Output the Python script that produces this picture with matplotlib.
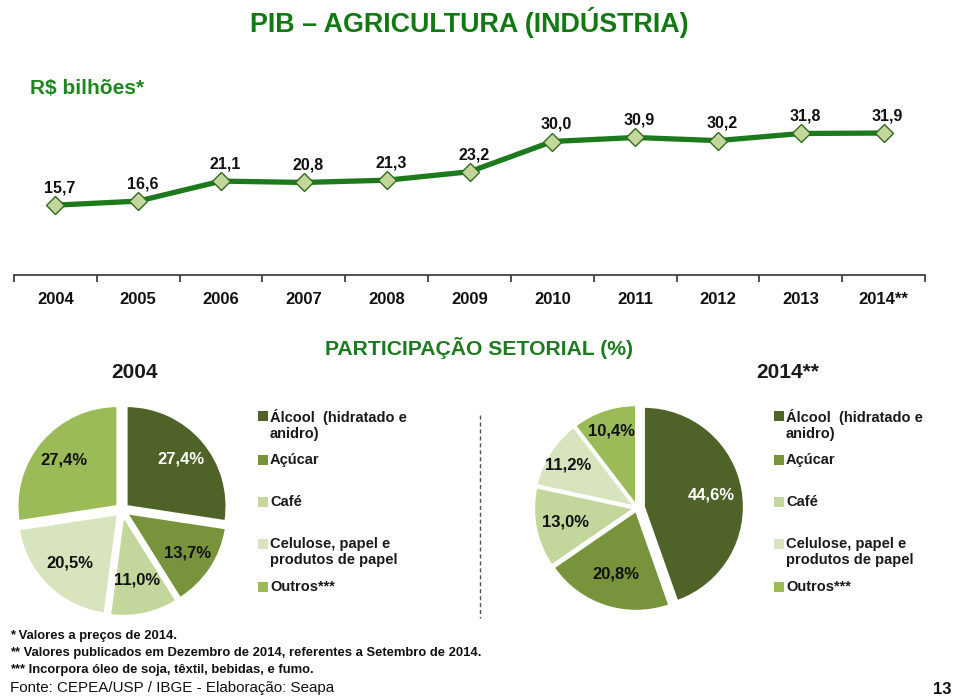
import matplotlib
matplotlib.use("Agg")
import matplotlib.pyplot as plt
from matplotlib.patches import Rectangle
import numpy as np

plt.rcParams['font.family'] = ['Liberation Sans', 'DejaVu Sans']

years = ['2004', '2005', '2006', '2007', '2008', '2009', '2010', '2011', '2012', '2013', '2014**']
pib = [15.7, 16.6, 21.1, 20.8, 21.3, 23.2, 30.0, 30.9, 30.2, 31.8, 31.9]

sectors = ['Álcool  (hidratado e\nanidro)', 'Açúcar', 'Café', 'Celulose, papel e\nprodutos de papel', 'Outros***']
share_2004 = [27.4, 13.7, 11.0, 20.5, 27.4]
share_2014 = [44.6, 20.8, 13.0, 11.2, 10.4]
colors = ['#4F6228', '#77933C', '#C3D69B', '#D7E4BD', '#9BBB59']
label_colors = ['white', '#111111', '#111111', '#111111', '#111111']

W, H = 960, 697
fig = plt.figure(figsize=(W / 100, H / 100), dpi=100)

def fx(x):
    return x / W

def fy(y):
    return 1 - y / H

# Titles
fig.text(fx(469), fy(22), 'PIB – AGRICULTURA (INDÚSTRIA)', ha='center', va='center',
         fontsize=19.4, fontweight='bold', color='#127812')
fig.text(fx(30), fy(88), 'R$ bilhões*', ha='left', va='center',
         fontsize=15, fontweight='bold', color='#1E861E')

# Line chart
ax = fig.add_axes([fx(14), fy(275), fx(925) - fx(14), fy(97) - fy(275)])
x = np.arange(len(years))
ax.plot(x, pib, color='#1C7A1C', lw=3.8, marker='D', markersize=9.5,
        markerfacecolor='#C3D69B', markeredgecolor='#2F6A1F', markeredgewidth=1.0, zorder=3)
for xi, v in zip(x, pib):
    ax.annotate(f'{v:.1f}'.replace('.', ','), (xi, v), xytext=(3, 7), textcoords='offset points',
                ha='center', va='bottom', fontsize=11.5, fontweight='bold', color='#111111')
ax.set_xlim(-0.5, len(years) - 0.5)
ax.set_ylim(0, 40)
for s in ['left', 'right', 'top']:
    ax.spines[s].set_visible(False)
ax.spines['bottom'].set_color('#333333')
ax.spines['bottom'].set_linewidth(1.2)
ax.set_yticks([])
ax.set_xticks(x)
ax.set_xticklabels(years, fontsize=12, fontweight='bold', color='#111111')
ax.tick_params(axis='x', which='major', length=0, pad=12)
ax.set_xticks(np.arange(-0.5, len(years), 1.0), minor=True)
ax.tick_params(axis='x', which='minor', length=5, width=1.2, color='#333333', direction='out')
ax.set_facecolor('none')

# Section header
fig.text(fx(479), fy(348), 'PARTICIPAÇÃO SETORIAL (%)', ha='center', va='center',
         fontsize=15.2, fontweight='bold', color='#1E7A1E')
fig.text(fx(135), fy(373), '2004', ha='center', va='center', fontsize=15, fontweight='bold', color='#1a1a1a')
fig.text(fx(788), fy(373), '2014**', ha='center', va='center', fontsize=15, fontweight='bold', color='#1a1a1a')

def draw_pie(cx, cy, values, explode, dists):
    r_px = 100
    half = 118
    pax = fig.add_axes([fx(cx - half), fy(cy + half), fx(2 * half), (2 * half) / H])
    pax.pie(values, colors=colors, startangle=90, counterclock=False,
            explode=explode, radius=1.0,
            wedgeprops=dict(edgecolor='white', linewidth=1.5))
    lim = half / r_px
    pax.set_xlim(-lim, lim)
    pax.set_ylim(-lim, lim)
    pax.set_aspect('equal')
    pax.axis('off')
    total = sum(values)
    cum = 0
    for i, v in enumerate(values):
        mid = 90 - 360 * (cum + v / 2) / total
        cum += v
        a = np.deg2rad(mid)
        d = dists[i] + explode[i]
        pax.text(d * np.cos(a), d * np.sin(a), f'{v:.1f}%'.replace('.', ','),
                 ha='center', va='center', fontsize=12, fontweight='bold', color=label_colors[i])
    return pax

draw_pie(122, 510, share_2004, [0.06, 0.06, 0.06, 0.06, 0.06], [0.72, 0.72, 0.66, 0.68, 0.70])
draw_pie(637, 508, share_2014, [0.07, 0.03, 0.03, 0.03, 0.03], [0.68, 0.66, 0.70, 0.78, 0.78])

def draw_legend(x0, rows):
    for (label, y), c in zip(rows, colors):
        fig.patches.append(Rectangle((fx(x0), fy(y + 12)), 10 / W, 10 / H, transform=fig.transFigure,
                                     facecolor=c, edgecolor='none'))
        fig.text(fx(x0 + 12), fy(y), label, ha='left', va='top', fontsize=10.5, fontweight='bold',
                 color='#1a1a1a', linespacing=1.2)

rows_y = [409, 453, 495, 537, 580]
draw_legend(258, list(zip(sectors, rows_y)))
draw_legend(774, list(zip(sectors, rows_y)))

# Dashed divider
fig.add_artist(plt.Line2D([fx(480), fx(480)], [fy(415), fy(618)], transform=fig.transFigure,
                          color='#555555', lw=1, ls=(0, (3, 2))))

# Footnotes
notes = ['* Valores a preços de 2014.',
         '** Valores publicados em Dezembro de 2014, referentes a Setembro de 2014.',
         '*** Incorpora óleo de soja, têxtil, bebidas, e fumo.']
for i, t in enumerate(notes):
    fig.text(fx(10), fy(636 + 17 * i), t, ha='left', va='center', fontsize=9.4, fontweight='bold',
             color='#111111')
fig.text(fx(10), fy(688), 'Fonte: CEPEA/USP / IBGE - Elaboração: Seapa', ha='left', va='center',
         fontsize=10.9, color='#111111')
fig.text(fx(952), fy(690), '13', ha='right', va='center', fontsize=12, fontweight='bold',
         color='#111111')

fig.savefig('out.png', dpi=100)
